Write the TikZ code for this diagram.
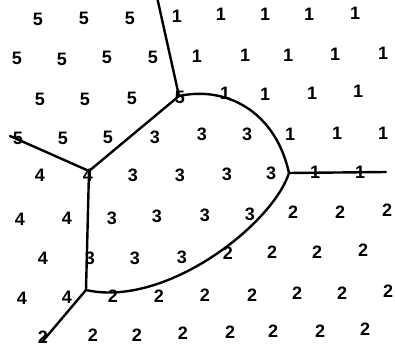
\documentclass[tikz,border=0pt]{standalone}
\usepackage{fontspec}
\setsansfont{Liberation Sans}

\begin{document}
\begin{tikzpicture}[
    x=1pt, y=-1pt,
    digit/.style={font=\sffamily\bfseries\fontsize{18}{18}\selectfont, inner sep=0pt},
    border/.style={line width=2.4pt, line cap=round, line join=round}
]
\useasboundingbox (0,0) rectangle (395,352);

% Junctions and free ends of the borders
\coordinate (v1) at (179,96);
\coordinate (v2) at (289,173);
\coordinate (v3) at (89,171);
\coordinate (v4) at (86,290);
\coordinate (top) at (157,-3);
\coordinate (left) at (10,136);
\coordinate (right) at (386,172);
\coordinate (bottom) at (42,342);

% Borders
\draw[border] (top) -- (v1);
\draw[border] (v1) .. controls (225,86) and (275,110) .. (v2);
\draw[border] (v2) -- (right);
\draw[border] (v1) -- (v3);
\draw[border] (left) -- (v3);
\draw[border] (v3) -- (v4);
\draw[border] (v4) -- (bottom);
\draw[border] (v2) .. controls (272,225) and (165,308) .. (v4);

% Region labels
\foreach \x/\y/\d [count=\i] in {
    38/19/5, 84/18/5, 130/18/5, 177/16/1, 221/14/1, 265/14/1, 309/14/1, 355/13/1,
    17/58/5, 62/59/5, 107/57/5, 153/57/5, 197/56/1, 245/55/1, 288/55/1, 335/54/1, 383/53/1,
    40/99/5, 85/99/5, 132/98/5, 180/97/5, 225/93/1, 265/94/1, 312/93/1, 358/91/1,
    18/138/5, 63/138/5, 108/137/5, 155/137/3, 202/134/3, 247/134/3, 290/134/1, 337/133/1, 383/133/1,
    40/175/4, 88/175/4, 133/175/3, 180/175/3, 227/174/3, 271/173/3, 315/172/1, 360/172/1,
    20/219/4, 67/218/4, 112/218/3, 157/216/3, 205/215/3, 250/214/3, 293/212/2, 340/212/2, 387/210/2,
    43/258/4, 90/258/3, 135/258/3, 182/257/3, 228/253/2, 272/252/2, 317/252/2, 363/250/2,
    22/298/4, 67/297/4, 113/296/2, 159/296/2, 205/295/2, 252/295/2, 297/293/2, 342/293/2, 388/291/2,
    43/337/2, 93/335/2, 137/335/2, 183/333/2, 230/332/2, 273/331/2, 320/331/2, 365/329/2}
    \node[digit] (n\i) at (\x,\y) {\d};

\end{tikzpicture}
\end{document}
